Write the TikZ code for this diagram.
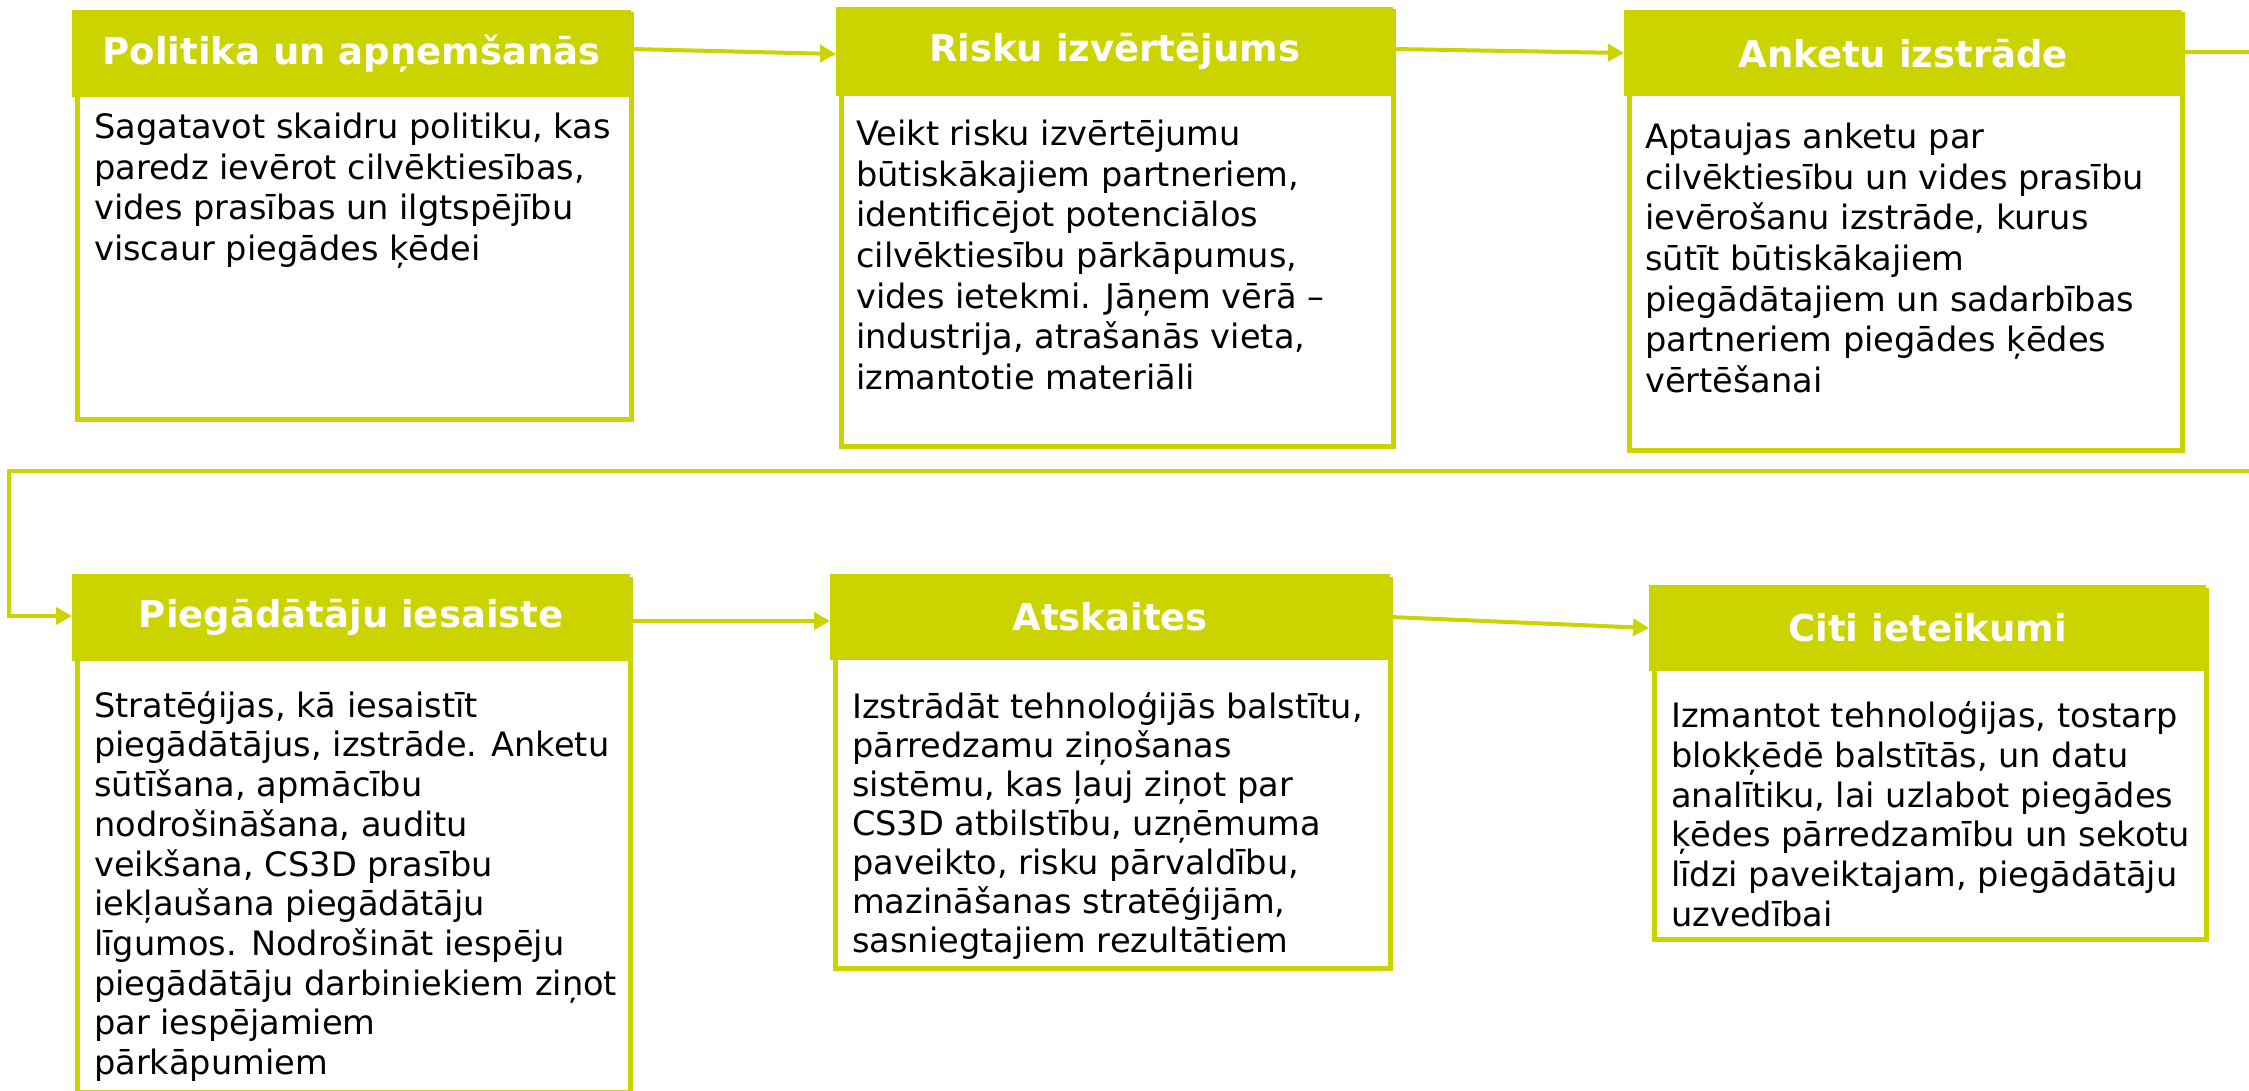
\documentclass[tikz,border=0pt]{standalone}
\usepackage{fontspec}
\setmainfont{DejaVu Sans}
\usetikzlibrary{arrows.meta}
\definecolor{limeg}{RGB}{204,212,0}
\newcommand{\mkbox}[7]{%
  \node[bdy, minimum width={#4-#2-5}, minimum height={#5-#3-5}] (#1b) at (#2+2.5,#3+2.5) {};
  \node[hdr, minimum width={#4-#2}, minimum height={#6-#3}] (#1h) at (#2,#3) {#7};
}
\tikzset{
  hdr/.style={fill=limeg, text=white, font=\bfseries\fontsize{37}{44}\selectfont, inner sep=0pt, anchor=north west},
  bdy/.style={draw=limeg, line width=5pt, fill=white, inner sep=0pt, anchor=north west},
  txt/.style={font=\fontsize{33.6}{#1}\selectfont, align=left, inner sep=0pt, anchor=north west, text=black},
  txt/.default=40.6,
  conn/.style={draw=limeg, line width=4pt, -{Triangle[length=16pt,width=17pt]}}
}
\begin{document}
\begin{tikzpicture}[x=1pt,y=-1pt]
\fill[white] (0,0) rectangle (2249,1091);
\useasboundingbox (0,0) rectangle (2249,1091);
% boxes
\mkbox{a}{72}{10}{631}{419}{97}{Politika un apņemšanās}
\mkbox{r}{836}{7}{1393}{446}{96}{Risku izvērtējums}
\mkbox{k}{1624}{10}{2182}{450}{96}{Anketu izstrāde}
\mkbox{p}{72}{574}{630}{1092}{661}{Piegādātāju iesaiste}
\mkbox{s}{830}{574}{1390}{968}{660}{Atskaites}
\mkbox{c}{1649}{585}{2206}{939}{671}{Citi ieteikumi}
% texts
\node[txt] (at) at (94,113) {Sagatavot skaidru politiku, kas\\paredz ievērot cilvēktiesības,\\vides prasības un ilgtspējību\\viscaur piegādes ķēdei};
\node[txt] (rt) at (856,120) {Veikt risku izvērtējumu\\būtiskākajiem partneriem,\\identificējot potenciālos\\cilvēktiesību pārkāpumus,\\vides ietekmi. Jāņem vērā –\\industrija, atrašanās vieta,\\izmantotie materiāli};
\node[txt] (kt) at (1645,123) {Aptaujas anketu par\\cilvēktiesību un vides prasību\\ievērošanu izstrāde, kurus\\sūtīt būtiskākajiem\\piegādātajiem un sadarbības\\partneriem piegādes ķēdes\\vērtēšanai};
\node[txt=39.7] (pt) at (94,691) {Stratēģijas, kā iesaistīt\\piegādātājus, izstrāde. Anketu\\sūtīšana, apmācību\\nodrošināšana, auditu\\veikšana, CS3D prasību\\iekļaušana piegādātāju\\līgumos. Nodrošināt iespēju\\piegādātāju darbiniekiem ziņot\\par iespējamiem\\pārkāpumiem};
\node[txt=39] (st) at (852,692) {Izstrādāt tehnoloģijās balstītu,\\pārredzamu ziņošanas\\sistēmu, kas ļauj ziņot par\\CS3D atbilstību, uzņēmuma\\paveikto, risku pārvaldību,\\mazināšanas stratēģijām,\\sasniegtajiem rezultātiem};
\node[txt=39.9] (ct) at (1671,701) {Izmantot tehnoloģijas, tostarp\\blokķēdē balstītās, un datu\\analītiku, lai uzlabot piegādes\\ķēdes pārredzamību un sekotu\\līdzi paveiktajam, piegādātāju\\uzvedībai};
% connectors
\draw[conn] ([yshift=-39pt]ah.north east) -- ([yshift=-47pt]rh.north west);
\draw[conn] ([yshift=-42pt]rh.north east) -- ([yshift=-43pt]kh.north west);
\draw[conn] ([yshift=-42pt]kh.north east) -- (2275,52) -- (2275,471) -- (9,471) -- (9,616) -- ([yshift=-42pt]ph.north west);
\draw[conn] ([yshift=-47pt]ph.north east) -- ([yshift=-47pt]sh.north west);
\draw[conn] ([yshift=-43pt]sh.north east) -- ([yshift=-43pt]ch.north west);
\end{tikzpicture}
\end{document}
